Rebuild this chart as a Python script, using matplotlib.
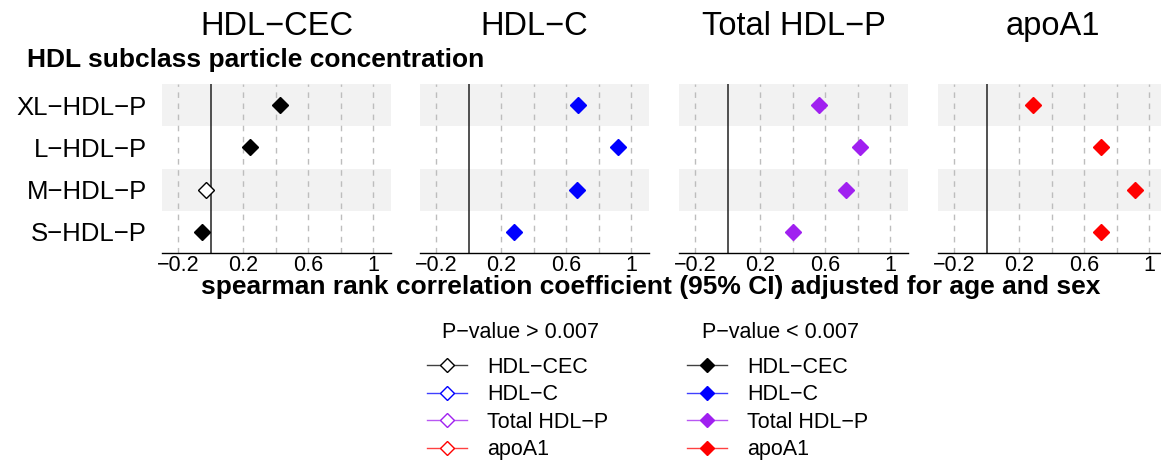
import numpy as np
import matplotlib
matplotlib.use('Agg')
import matplotlib.pyplot as plt
from matplotlib.lines import Line2D
from matplotlib.colors import to_rgba

plt.rcParams['font.family'] = ['Liberation Sans', 'DejaVu Sans']

#data
rows = ['XL\u2212HDL\u2212P', 'L\u2212HDL\u2212P', 'M\u2212HDL\u2212P', 'S\u2212HDL\u2212P']
measures = ['HDL\u2212CEC', 'HDL\u2212C', 'Total HDL\u2212P', 'apoA1']
legend_labels = ['HDL\u2212CEC', 'HDL\u2212C', 'Total HDL\u2212P', 'apoA1']
colors = ['#000000', '#0000ff', '#a020f0', '#ff0000']

cec = [0.425, 0.244, -0.03, -0.055]
hdlc = [0.671, 0.918, 0.665, 0.28]
hdlp = [0.56, 0.816, 0.73, 0.40]
apoa1 = [0.283, 0.703, 0.914, 0.703]
values = [cec, hdlc, hdlp, apoa1]

cec_sig = [True, True, False, True]
hdlc_sig = [True, True, True, True]
hdlp_sig = [True, True, True, True]
apoa1_sig = [True, True, True, True]
signif = [cec_sig, hdlc_sig, hdlp_sig, apoa1_sig]

xticks = [-0.2, 0.2, 0.6, 1]
xticklabels = ['\u22120.2', '0.2', '0.6', '1']
grid_x = [-0.2, 0.2, 0.4, 0.6, 0.8, 1.0]

W, H = 1161, 461
fig = plt.figure(figsize=(W/100, H/100), dpi=100)

lefts = [162, 420, 679, 938]
pw = 229
top, bottom = 84, 253
ypos = np.arange(len(rows))[::-1] + 1  #XL at top

for k, left in enumerate(lefts):
    ax = fig.add_axes([left/W, (H-bottom)/H, pw/W, (bottom-top)/H])
    for i, y in enumerate(ypos):
        if i % 2 == 0:
            ax.axhspan(y-0.5, y+0.5, color='#f2f2f2', lw=0, zorder=0)
    for g in grid_x:
        ax.axvline(g, color='#bdbdbd', lw=1, ls=(0, (4, 4)), zorder=1)
    ax.axvline(0, color='#333333', lw=1.2, zorder=2)
    for i, y in enumerate(ypos):
        fc = colors[k] if signif[k][i] else 'white'
        ax.plot(values[k][i], y, marker='D', ms=8, mfc=fc, mec=colors[k],
                mew=1.0, ls='none', zorder=3)
    ax.set_xlim(-0.3, 1.11)
    ax.set_ylim(0.5, 4.5)
    ax.set_xticks(xticks)
    ax.set_xticklabels(xticklabels, fontsize=15.5)
    ax.tick_params(axis='x', length=0, pad=1.5)
    if k == 0:
        ax.set_yticks(ypos)
        ax.set_yticklabels(rows, fontsize=18.5)
        ax.tick_params(axis='y', length=0, pad=11)
    else:
        ax.set_yticks([])
    for s in ['top', 'right', 'left']:
        ax.spines[s].set_visible(False)
    ax.spines['bottom'].set_linewidth(1)
    fig.text((left+pw/2)/W, (H-35)/H, measures[k], fontsize=23.5,
             ha='center', va='baseline')

fig.text(27/W, (H-67)/H, 'HDL subclass particle concentration', fontsize=19,
         fontweight='bold', ha='left', va='baseline')
fig.text(651/W, (H-294)/H, 'spearman rank correlation coefficient (95% CI) adjusted for age and sex',
         fontsize=19, fontweight='bold', ha='center', va='baseline')

#legends
open_handles = [Line2D([], [], color=to_rgba(c, 0.75), lw=1, marker='D', ms=7.5,
                       mfc='white', mec=c, mew=1) for c in colors]
fill_handles = [Line2D([], [], color=to_rgba(c, 0.75), lw=1, marker='D', ms=7.5,
                       mfc=c, mec=c) for c in colors]
for hs, x0, tx, ttl in [(open_handles, 427, 442, 'P\u2212value > 0.007'),
                        (fill_handles, 687, 702, 'P\u2212value < 0.007')]:
    fig.legend(hs, legend_labels, loc='upper left',
               bbox_to_anchor=(x0/W, (H-357)/H), frameon=False,
               fontsize=15.5, handlelength=1.85, handletextpad=0.95,
               labelspacing=0.3, borderpad=0, borderaxespad=0)
    fig.text(tx/W, (H-332)/H, ttl, fontsize=15.5, ha='left', va='center')

fig.savefig('out.png', dpi=100)
